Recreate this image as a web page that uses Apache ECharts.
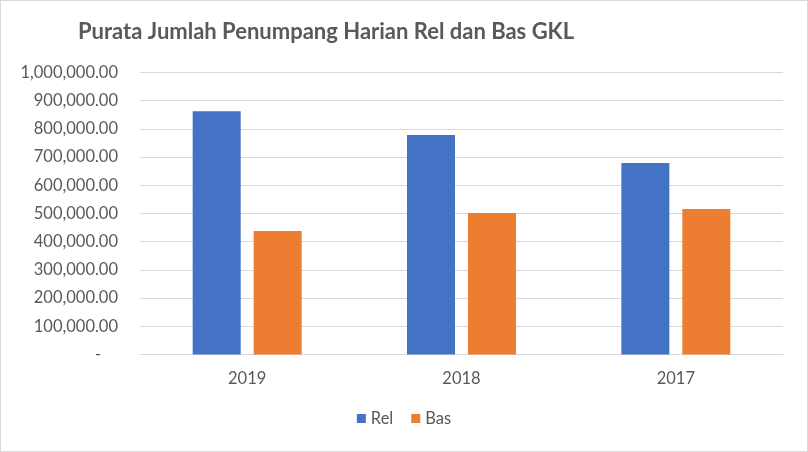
<!DOCTYPE html>
<html>
<head>
<meta charset="utf-8">
<script src="https://cdn.jsdelivr.net/npm/echarts@6/dist/echarts.min.js"></script>
<style>
html,body{margin:0;padding:0;background:#fff;}
#c{width:806px;height:450px;border:1px solid #d9d9d9;}
</style>
</head>
<body>
<div id="c"></div>
<script>
const categories = ['2019', '2018', '2017'];
const relValues = [863000, 778000, 679000];
const basValues = [438000, 502000, 516000];
const yTicks = { min: 0, max: 1000000, interval: 100000 };

const chart = echarts.init(document.getElementById('c'));
const font = 'Lato, "Open Sans", sans-serif';
function fmt(v) {
  if (v === 0) return '-    ';
  return v.toLocaleString('en-US', { minimumFractionDigits: 2, maximumFractionDigits: 2 });
}
chart.setOption({
  animation: false,
  title: {
    text: 'Purata Jumlah Penumpang Harian Rel dan Bas GKL',
    left: 72, top: 15,
    textStyle: { fontFamily: font, fontSize: 22, fontWeight: 'bold', color: '#595959' }
  },
  legend: {
    bottom: 19, left: 'center',
    itemWidth: 9, itemHeight: 9, itemGap: 18,
    icon: 'rect',
    textStyle: { fontFamily: font, fontSize: 16.5, color: '#595959' },
    data: ['Rel', 'Bas']
  },
  grid: { left: 139, right: 24, top: 71.5, bottom: 96.5, containLabel: false },
  xAxis: {
    type: 'category',
    data: categories,
    axisLine: { lineStyle: { color: '#d9d9d9' } },
    axisTick: { show: false },
    axisLabel: { fontFamily: font, fontSize: 16.5, color: '#595959', margin: 16 }
  },
  yAxis: {
    type: 'value',
    min: yTicks.min, max: yTicks.max, interval: yTicks.interval,
    axisLine: { show: false },
    axisTick: { show: false },
    splitLine: { lineStyle: { color: '#d9d9d9', width: 1 } },
    axisLabel: { fontFamily: font, fontSize: 16.5, color: '#595959', margin: 22, formatter: fmt }
  },
  series: [
    { name: 'Rel', type: 'bar', data: relValues, barWidth: '22.4%', barGap: '27%', itemStyle: { color: '#4472C4' } },
    { name: 'Bas', type: 'bar', data: basValues, barWidth: '22.4%', barGap: '27%', itemStyle: { color: '#ED7D31' } }
  ]
});
</script>
</body>
</html>
